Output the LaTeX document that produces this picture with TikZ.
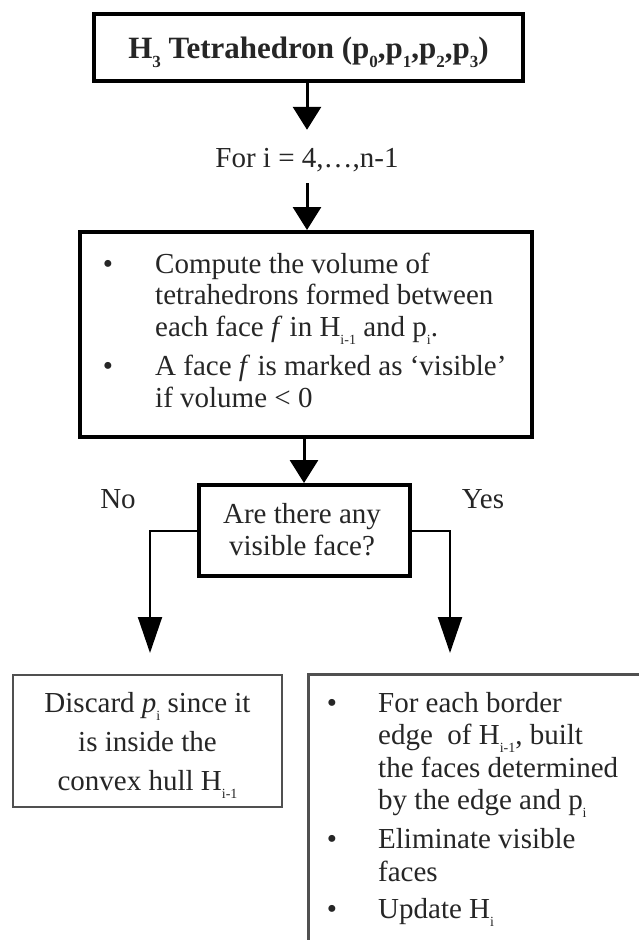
\documentclass[tikz,border=0pt]{standalone}
\usepackage{fontspec}
\setmainfont{Liberation Serif}
\usetikzlibrary{arrows.meta}
\definecolor{ink}{HTML}{262626}
\definecolor{frame}{HTML}{505050}
% low-set subscript, as in the slide text
\newcommand{\lowsub}[1]{\raisebox{-8pt}{\fontsize{14}{14}\selectfont #1}}
\newcommand{\boldsub}[1]{\raisebox{-9pt}{\fontsize{17}{17}\selectfont #1}}
\tikzset{
  every node/.style={text=ink, font=\fontsize{29}{33}\selectfont},
  thickbox/.style={draw=black, line width=4pt, rectangle, inner sep=0pt},
  thinbox/.style={draw=frame, line width=2.5pt, rectangle, inner sep=0pt},
  txt/.style={anchor=base west, inner sep=0pt},
  ctxt/.style={anchor=base, inner sep=0pt},
  flow/.style={draw=black, line width=3pt, -{Triangle[width=28pt,length=23pt]}},
  branch/.style={draw=black, line width=2pt, -{Triangle[width=24pt,length=36pt]}},
}
\begin{document}
\begin{tikzpicture}[x=1pt,y=-1pt]
\clip (0,0) rectangle (639,940);
\fill[white] (0,0) rectangle (639,940);

% start box
\node[thickbox, minimum width=429pt, minimum height=67pt,
      text height=22pt, text depth=0pt,
      font=\fontsize{31}{35}\selectfont\bfseries] (h3) at (308.5,47.5)
  {H\boldsub{3} Tetrahedron (p\boldsub{0},p\boldsub{1},p\boldsub{2},p\boldsub{3})};

% loop header
\node[inner sep=0pt, minimum height=53pt, text height=22pt, text depth=0pt]
  (fori) at (307,156.5) {For i = 4,…,n-1};

% volume test box
\node[thickbox, minimum width=452pt, minimum height=205pt] (box2) at (306,334.5) {};
\node[ctxt] (b2a) at (108,273) {\textbullet};
\node[txt] (l1) at (155,273) {Compute the volume of};
\node[txt] (l2) at (155,304) {tetrahedrons formed between};
\node[txt] (l3) at (155,336) {each face \textit{f} in H\lowsub{i-1} and p\lowsub{i}.};
\node[ctxt] (b2b) at (108,375) {\textbullet};
\node[txt] (l4) at (155,375) {A face \textit{f} is marked as ‘visible’};
\node[txt] (l5) at (155,407) {if volume < 0};

% decision
\node[thickbox, minimum width=211pt, minimum height=91pt] (dec) at (304,530.5) {};
\node[ctxt] (d1) at (302,523) {Are there any};
\node[ctxt] (d2) at (302,555) {visible face?};
\node[ctxt] (no) at (118,508) {No};
\node[ctxt] (yes) at (483,508) {Yes};

% outcome boxes
\node[thinbox, minimum width=269pt, minimum height=132pt] (discard) at (147.5,741) {};
\node[ctxt] (c1) at (147.5,712) {Discard \textit{p}\lowsub{i} since it};
\node[ctxt] (c2) at (147.5,751) {is inside the};
\node[ctxt] (c3) at (147.5,790) {convex hull H\lowsub{i-1}};

\node[thinbox, minimum width=400pt, minimum height=320pt, anchor=north west] (update) at (307,673) {};
\node[ctxt] (ba) at (332,712) {\textbullet};
\node[txt] (r1) at (378,712) {For each border};
\node[txt] (r2) at (378,744) {edge\ \ of H\lowsub{i-1}, built};
\node[txt] (r3) at (378,777) {the faces determined};
\node[txt] (r4) at (378,809) {by the edge and p\lowsub{i}};
\node[ctxt] (bb) at (332,848) {\textbullet};
\node[txt] (r5) at (378,848) {Eliminate visible};
\node[txt] (r6) at (378,881) {faces};
\node[ctxt] (bc) at (332,918) {\textbullet};
\node[txt] (r7) at (378,918) {Update H\lowsub{i}};

% connectors
\coordinate (noend) at (150,653);
\coordinate (yesend) at (450,653);
\draw[flow] (h3.south -| fori.north) -- (fori.north);
\draw[flow] (fori.south) -- (fori.south |- box2.north);
\draw[flow] (box2.south -| dec.north) -- (dec.north);
\draw[branch] (dec.west) -| (noend);
\draw[branch] (dec.east) -| (yesend);
\end{tikzpicture}
\end{document}
